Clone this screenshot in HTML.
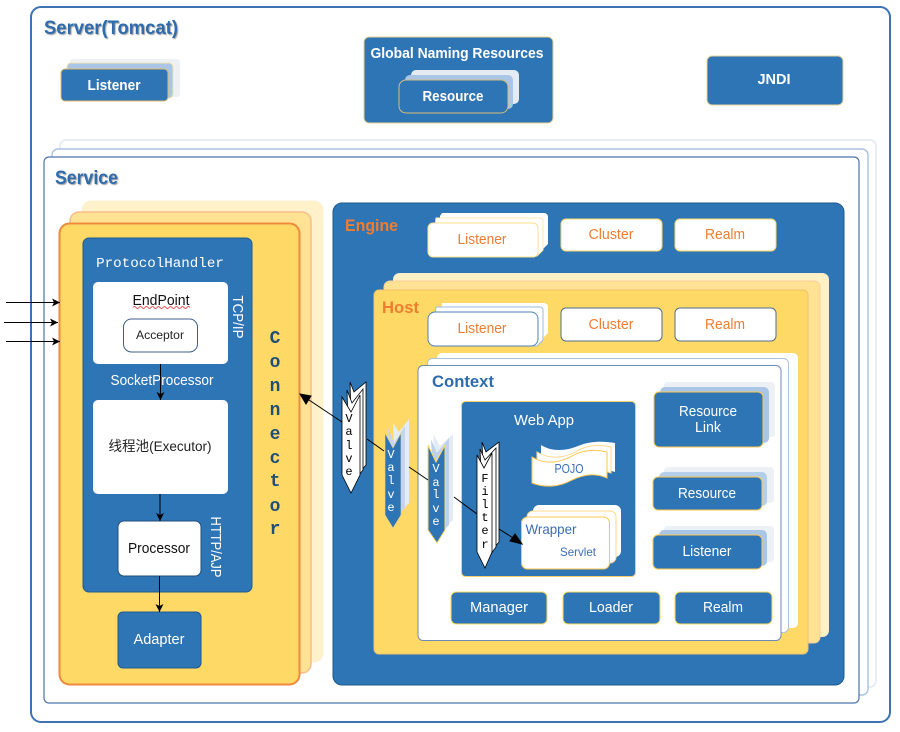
<!DOCTYPE html>
<html><head><meta charset="utf-8"><style>
html,body{margin:0;padding:0;background:#fff;width:900px;height:732px;overflow:hidden}
svg{display:block;filter:blur(.3px)}
text{font-family:"Liberation Sans","Noto Sans CJK SC",sans-serif;text-anchor:middle}
.m{font-family:"Liberation Mono",monospace}
.w{fill:#fff}.b{font-weight:bold}
.t{fill:#2e6cae;font-weight:bold;text-anchor:start;filter:drop-shadow(1px 1px .6px #999)}
.o{fill:#ed7d31}
.bl{fill:#2e75b6}
</style></head><body>
<svg width="900" height="732" viewBox="0 0 900 732" xmlns="http://www.w3.org/2000/svg">
<defs>
<marker id="a" markerWidth="9" markerHeight="8" refX="8" refY="4" orient="auto" markerUnits="userSpaceOnUse"><path d="M0 0L8 4L0 8L2 4Z" fill="#000"/></marker>
</defs>
<rect x="31" y="7" width="859" height="715" rx="10" fill="#fff" stroke="#3e72b2" stroke-width="2"/>
<text x="44" y="34" class="t" font-size="19" textLength="134" lengthAdjust="spacingAndGlyphs">Server(Tomcat)</text>

<rect x="70" y="59" width="110" height="38" rx="3" fill="#eef1f4"/>
<rect x="67" y="63" width="106" height="35" rx="4" fill="#a9c6e6" stroke="#f3e2ad"/>
<rect x="61" y="69" width="107" height="32" rx="4" class="bl" stroke="#e3b868"/>
<text x="114" y="90" class="w b" font-size="15" textLength="53" lengthAdjust="spacingAndGlyphs">Listener</text>

<rect x="364" y="37" width="189" height="86" rx="5" class="bl" stroke="#e9d28e"/>
<text x="457" y="58" class="w b" font-size="15" textLength="173" lengthAdjust="spacingAndGlyphs">Global Naming Resources</text>
<rect x="411" y="70" width="108" height="34" rx="5" fill="#e4ebf3"/>
<rect x="405" y="75" width="108" height="34" rx="5" fill="#a9c6e6"/>
<rect x="399" y="80" width="109" height="33" rx="7" class="bl" stroke="#d6bd7a"/>
<text x="453" y="101" class="w b" font-size="15" textLength="61" lengthAdjust="spacingAndGlyphs">Resource</text>

<rect x="707" y="56" width="136" height="49" rx="5" class="bl" stroke="#ead498"/>
<text x="774" y="84" class="w b" font-size="15" textLength="33" lengthAdjust="spacingAndGlyphs">JNDI</text>

<rect x="60" y="140" width="816" height="547" rx="6" fill="#fff" stroke="#e6edf5" stroke-width="2"/>
<rect x="52" y="149" width="816" height="546" rx="6" fill="#fff" stroke="#a9c2de" stroke-width="1.4"/>
<rect x="44" y="157" width="815" height="546" rx="5" fill="#fff" stroke="#4a76ad" stroke-width="1.2"/>
<text x="55" y="184" class="t" font-size="19" textLength="63" lengthAdjust="spacingAndGlyphs">Service</text>

<rect x="82" y="201" width="241" height="461" rx="9" fill="#fff1c9" stroke="#fdf0d4"/>
<rect x="70" y="212" width="241" height="461" rx="9" fill="#ffe294" stroke="#f8bd8b" stroke-width="1.5"/>
<rect x="59.500" y="223.500" width="240" height="461" rx="10" fill="#ffd966" stroke="#ef8a3c" stroke-width="2"/>

<rect x="83" y="238" width="169" height="354" rx="6" class="bl" stroke="#1f5a8d"/>
<text x="160" y="267" class="w m" font-size="14.200">ProtocolHandler</text>
<rect x="93" y="282" width="135" height="82" rx="5" fill="#fff"/>
<text x="161" y="305" font-size="15" textLength="57" lengthAdjust="spacingAndGlyphs" fill="#111">EndPoint</text>
<path d="M133 307.500q1.500-2 3 0t3 0t3 0t3 0t3 0t3 0t3 0t3 0t3 0t3 0t3 0t3 0t3 0t3 0t3 0t3 0t3 0t3 0t3 0" fill="none" stroke="#e33" stroke-width=".8"/>
<rect x="123.500" y="319" width="74" height="33" rx="8" fill="#fff" stroke="#3f5f8a" stroke-width="1"/>
<text x="160" y="339" font-size="12" textLength="48" lengthAdjust="spacingAndGlyphs" fill="#222">Acceptor</text>
<text x="238" y="317" class="w" font-size="14.500" transform="rotate(90 238 317) translate(0 5)" textLength="43" lengthAdjust="spacingAndGlyphs">TCP/IP</text>
<text x="162" y="385" class="w" font-size="14.500" textLength="103" lengthAdjust="spacingAndGlyphs">SocketProcessor</text>
<rect x="93" y="400" width="135" height="94" rx="5" fill="#fff"/>
<text x="160" y="451" font-size="14" fill="#222" textLength="103" lengthAdjust="spacingAndGlyphs">线程池(Executor)</text>
<rect x="118" y="521" width="83" height="55" rx="6" fill="#fff" stroke="#1f4e79"/>
<text x="159" y="553" font-size="14.500" fill="#111" textLength="62" lengthAdjust="spacingAndGlyphs">Processor</text>
<text x="216" y="547" class="w" font-size="14.500" transform="rotate(90 216 547) translate(0 5)" textLength="61" lengthAdjust="spacingAndGlyphs">HTTP/AJP</text>
<rect x="118" y="612" width="83" height="56" rx="5" class="bl" stroke="#1f5a8d"/>
<text x="159" y="644" class="w" font-size="14.500" textLength="51" lengthAdjust="spacingAndGlyphs">Adapter</text>

<g class="m" font-size="18" font-weight="bold" fill="#1f4e79">
<text class="m" x="275" y="343">C</text><text class="m" x="275" y="367">o</text><text class="m" x="275" y="391">n</text><text class="m" x="275" y="415">n</text><text class="m" x="275" y="439">e</text><text class="m" x="275" y="463">c</text><text class="m" x="275" y="486">t</text><text class="m" x="275" y="511">o</text><text class="m" x="275" y="534">r</text>
</g>

<g stroke="#000" stroke-width="1" fill="none" marker-end="url(#a)">
<path d="M6 302.500H60" marker-end="url(#a)"/><path d="M4 322.500H58" marker-end="url(#a)"/><path d="M6 341.500H60" marker-end="url(#a)"/>
<path d="M160.500 364V400" marker-end="url(#a)"/><path d="M160 494V521" marker-end="url(#a)"/><path d="M159.500 576V612" marker-end="url(#a)"/>
</g>

<rect x="333" y="203" width="511" height="482" rx="9" class="bl" stroke="#1f5a8d"/>
<text x="345" y="231" class="o b" font-size="17" style="text-anchor:start" textLength="53" lengthAdjust="spacingAndGlyphs">Engine</text>

<path d="M442 213H544a4 4 0 0 1 4 4V244l-10 10H440V216Z" fill="#fff"/>
<path d="M436 218H540a3 3 0 0 1 3 3V250l-6 6H432Z" fill="#fff" stroke="#fbeab5"/>
<rect x="428" y="223" width="110" height="34" rx="5" fill="#fff" stroke="#ffdf8a"/>
<text x="482" y="244" class="o" font-size="15" textLength="49" lengthAdjust="spacingAndGlyphs">Listener</text>
<rect x="561" y="219" width="101" height="32" rx="5" fill="#fff" stroke="#ffd966"/>
<text x="611" y="239" class="o" font-size="15" textLength="45" lengthAdjust="spacingAndGlyphs">Cluster</text>
<rect x="675" y="219" width="101" height="32" rx="5" fill="#fff" stroke="#ffd966"/>
<text x="725" y="239" class="o" font-size="15" textLength="40" lengthAdjust="spacingAndGlyphs">Realm</text>

<rect x="393.500" y="273.500" width="435" height="363" rx="6" fill="#fff0c6" stroke="#fbeccb"/>
<rect x="384" y="281" width="436" height="362" rx="6" fill="#ffe294" stroke="#f8cf9a"/>
<rect x="374" y="290" width="434" height="364" rx="5" fill="#ffd966" stroke="#f2c26c"/>
<text x="382" y="313" class="o b" font-size="17" style="text-anchor:start" textLength="37" lengthAdjust="spacingAndGlyphs">Host</text>

<path d="M442 303H544a4 4 0 0 1 4 4V333l-8 8H440Z" fill="#fff"/>
<path d="M436 307H540a3 3 0 0 1 3 3V340l-6 6H432Z" fill="#fff" stroke="#9ebbdd"/>
<rect x="428" y="312" width="110" height="34" rx="7" fill="#fff" stroke="#4f81b8"/>
<text x="482" y="333" class="o" font-size="15" textLength="49" lengthAdjust="spacingAndGlyphs">Listener</text>
<rect x="561" y="308" width="101" height="33" rx="5" fill="#fff" stroke="#4f6f90"/>
<text x="611" y="329" class="o" font-size="15" textLength="45" lengthAdjust="spacingAndGlyphs">Cluster</text>
<rect x="675" y="308" width="101" height="33" rx="5" fill="#fff" stroke="#4f6f90"/>
<text x="725" y="329" class="o" font-size="15" textLength="40" lengthAdjust="spacingAndGlyphs">Realm</text>

<rect x="437" y="353" width="361" height="275" rx="5" fill="#fff"/>
<rect x="427.500" y="358.500" width="361" height="274" rx="5" fill="#fff" stroke="#a9c2de"/>
<rect x="418" y="365.500" width="363" height="275" rx="5" fill="#fff" stroke="#6d8cb5"/>
<text x="432" y="387" class="t" style="filter:none" font-size="16.500" textLength="62" lengthAdjust="spacingAndGlyphs">Context</text>

<rect x="461.500" y="401.500" width="174" height="175" rx="4" class="bl" stroke="#f5cf6e"/>
<text x="544" y="425" class="w" font-size="15" textLength="60" lengthAdjust="spacingAndGlyphs">Web App</text>

<path d="M541 445C552 452 566 451 578 446C590 441 603 441 615 443V472C603 468 592 469 580 474L541 470Z" fill="#fff"/>
<path d="M537 452C550 460 565 458 577 451C587 445 600 444 611 447V473C600 469 590 470 577 475L537 478Z" fill="#fff" stroke="#ffd98a"/>
<path d="M532 457C545 465 560 463 572 456C582 450 595 449 607 452V478C595 473 585 474 572 480C560 487 545 488 532 483Z" fill="#fff" stroke="#ffc64d"/>
<text x="569" y="473" font-size="13" fill="#3c6eb4" textLength="29" lengthAdjust="spacingAndGlyphs">POJO</text>

<rect x="533" y="505" width="88" height="52" rx="6" fill="#fff"/>
<rect x="527" y="511" width="89" height="52" rx="6" fill="#fff" stroke="#ffd98a"/>
<rect x="521.500" y="517" width="88" height="52" rx="6" fill="#fff" stroke="#ffc64d"/>
<text x="551" y="534" font-size="14" fill="#3c6eb4" textLength="51" lengthAdjust="spacingAndGlyphs">Wrapper</text>
<text x="578" y="556" font-size="12" fill="#3c6eb4" textLength="36" lengthAdjust="spacingAndGlyphs">Servlet</text>

<!-- valve 1 -->
<g stroke="#000" stroke-width=".8" fill="#fff">
<path d="M350 382L354 392L366 382V465L353 480Z" />
<path d="M347 390L352 403L363 389V470L350 486Z"/>
<path d="M342 397L351 412L360 395V475L351 493L342 475Z"/>
</g>
<!-- valve 2 -->
<path d="M393 423L399 432L409 419V503L397 515Z" fill="#e4ecf5"/>
<path d="M388 428L394 443L405 426V508L393 520Z" fill="#c3d6ec"/>
<path d="M385 433L393 448L401 433V515L393 528L385 515Z" class="bl" stroke="#e9d28e" stroke-width=".6"/>
<!-- valve 3 -->
<path d="M433 434L440 446L453 434V520L440 532Z" fill="#e3ebf4"/>
<path d="M431 439L437 453L449 438V525L437 537Z" fill="#bdd2ea"/>
<path d="M428 445L436 462L445 445V530L437 543L428 530Z" class="bl" stroke="#ffd966" stroke-width="1"/>
<!-- filter -->
<g stroke="#000" stroke-width=".8" fill="#fff">
<path d="M482 442L486 452L499 442V542L487 556Z"/>
<path d="M480 449L485 460L496 448V547L485 562Z"/>
<path d="M477 455L484 468L492 453V552L485 568L477 552Z"/>
</g>

<g class="m" font-size="12" fill="#000">
<text class="m" x="349" y="422">V</text><text class="m" x="349" y="435">a</text><text class="m" x="349" y="449">l</text><text class="m" x="349" y="462">v</text><text class="m" x="349" y="475">e</text>
<text class="m" x="485" y="482">F</text><text class="m" x="485" y="495">i</text><text class="m" x="485" y="508">l</text><text class="m" x="485" y="521">t</text><text class="m" x="485" y="534">e</text><text class="m" x="485" y="548">r</text>
</g>
<g class="m" font-size="12" fill="#fff">
<text class="m w" x="391" y="458">V</text><text class="m w" x="391" y="471">a</text><text class="m w" x="391" y="484">l</text><text class="m w" x="391" y="498">v</text><text class="m w" x="391" y="511">e</text>
<text class="m w" x="436" y="472">V</text><text class="m w" x="436" y="486">a</text><text class="m w" x="436" y="498">l</text><text class="m w" x="436" y="512">v</text><text class="m w" x="436" y="525">e</text>
</g>

<g stroke="#000" stroke-width="1" fill="none">
<path d="M342 422L300 394"/><path d="M300 394L311 396L306 404Z" fill="#000"/>
<path d="M367 439L384 451"/><path d="M409 467L428 480"/><path d="M454 497L477 514"/>
<path d="M499 529L521 543"/><path d="M522 544L510 541L515 534Z" fill="#000"/>
</g>

<rect x="664" y="382" width="111" height="55" rx="4" fill="#edf1f5"/>
<rect x="660" y="387" width="109" height="56" rx="5" fill="#a9c6e6"/>
<rect x="654" y="392" width="109" height="55" rx="5" class="bl" stroke="#ffc64d"/>
<text x="708" y="416" class="w" font-size="15" textLength="58" lengthAdjust="spacingAndGlyphs">Resource</text>
<text x="708" y="432" class="w" font-size="15" textLength="26" lengthAdjust="spacingAndGlyphs">Link</text>

<rect x="664" y="467" width="110" height="36" rx="4" fill="#edf1f5"/>
<rect x="659" y="472" width="108" height="34" rx="5" fill="#b5cfea"/>
<rect x="653" y="477" width="109" height="33" rx="5" class="bl" stroke="#ffc64d"/>
<text x="707" y="498" class="w" font-size="15" textLength="58" lengthAdjust="spacingAndGlyphs">Resource</text>

<rect x="664" y="526" width="110" height="36" rx="4" fill="#edf1f5"/>
<rect x="659" y="530" width="108" height="36" rx="5" fill="#a9c6e6"/>
<rect x="653" y="535" width="109" height="34" rx="5" class="bl" stroke="#ffc64d"/>
<text x="707" y="556" class="w" font-size="15" textLength="49" lengthAdjust="spacingAndGlyphs">Listener</text>

<rect x="451" y="592" width="96" height="32" rx="5" class="bl" stroke="#ffd966"/>
<text x="499" y="612" class="w" font-size="15" textLength="58" lengthAdjust="spacingAndGlyphs">Manager</text>
<rect x="563" y="592" width="97" height="32" rx="5" class="bl" stroke="#ffd966"/>
<text x="611" y="612" class="w" font-size="15" textLength="44" lengthAdjust="spacingAndGlyphs">Loader</text>
<rect x="675" y="592" width="97" height="32" rx="5" class="bl" stroke="#ffd966"/>
<text x="723" y="612" class="w" font-size="15" textLength="40" lengthAdjust="spacingAndGlyphs">Realm</text>
</svg>
</body></html>
